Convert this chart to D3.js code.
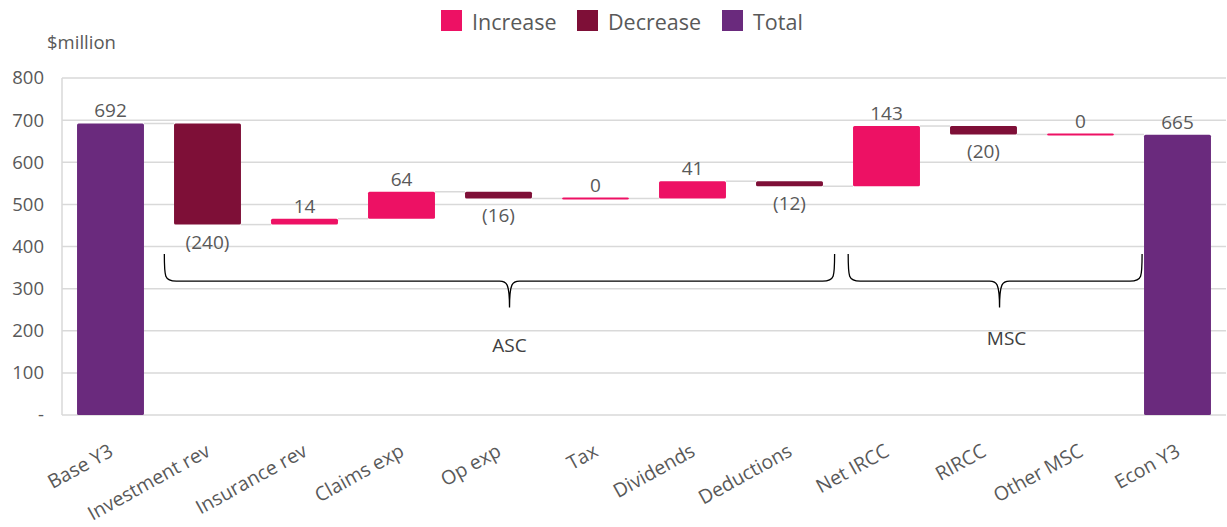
<!DOCTYPE html>
<html lang="en">
<head>
    <meta charset="UTF-8">
    <title>Waterfall $million</title>
    <script src="https://d3js.org/d3.v7.min.js"></script>
    <style>
        body { margin: 0; background: #fff; }
        svg { display: block; }
        text { font-family: "Open Sans", "Noto Sans", sans-serif; fill: #595959; }
    </style>
</head>
<body>
    <svg width="1227" height="527"></svg>
    <script>
        // Chart data
        const categories = ["Base Y3", "Investment rev", "Insurance rev", "Claims exp", "Op exp", "Tax",
                            "Dividends", "Deductions", "Net IRCC", "RIRCC", "Other MSC", "Econ Y3"];
        const values = [692, -240, 14, 64, -16, 0, 41, -12, 143, -20, 0, 665];
        const kinds = ["total", "step", "step", "step", "step", "step", "step", "step", "step", "step", "step", "total"];
        const yTicks = [0, 100, 200, 300, 400, 500, 600, 700, 800];
        const groups = [
            { label: "ASC", from: "Investment rev", to: "Deductions" },
            { label: "MSC", from: "Net IRCC", to: "Other MSC" }
        ];
        const legendItems = ["Increase", "Decrease", "Total"];
        const colors = { Increase: "#ED1164", Decrease: "#7E0F37", Total: "#6A2A7D" };

        const svg = d3.select("svg");
        const margin = { left: 62, right: 1, top: 78, bottom: 112 };
        const width = 1227, height = 527;

        // Running totals
        let running = 0;
        const bars = categories.map((c, i) => {
            let y0, y1, type;
            if (kinds[i] === "total") {
                y0 = 0; y1 = values[i]; running = values[i]; type = "Total";
            } else {
                y0 = running; y1 = running + values[i]; running = y1;
                type = values[i] < 0 ? "Decrease" : "Increase";
            }
            return { cat: c, value: values[i], y0, y1, type, end: running };
        });

        const x = d3.scaleBand()
            .domain(categories)
            .range([margin.left, width - margin.right])
            .paddingInner(0.31)
            .paddingOuter(0.155);

        const y = d3.scaleLinear()
            .domain([0, 800])
            .range([height - margin.bottom, margin.top]);

        // Gridlines
        svg.append("g")
            .selectAll("line")
            .data(yTicks)
            .join("line")
            .attr("x1", margin.left)
            .attr("x2", width - margin.right)
            .attr("y1", d => y(d))
            .attr("y2", d => y(d))
            .attr("stroke", "#d9d9d9")
            .attr("stroke-width", 1.5);

        svg.append("line")
            .attr("x1", margin.left).attr("x2", margin.left)
            .attr("y1", y(800)).attr("y2", y(0))
            .attr("stroke", "#d9d9d9")
            .attr("stroke-width", 1.5);

        // Y axis labels
        svg.append("g")
            .selectAll("text")
            .data(yTicks)
            .join("text")
            .attr("x", 44)
            .attr("y", d => y(d))
            .attr("dy", "0.35em")
            .attr("text-anchor", "end")
            .attr("font-size", 18.5)
            .text(d => d === 0 ? "-" : d);

        svg.append("text")
            .attr("x", 47)
            .attr("y", 49)
            .attr("font-size", 18.5)
            .text("$million");

        // Connector lines between bars
        svg.append("g")
            .selectAll("line")
            .data(bars.slice(0, -1))
            .join("line")
            .attr("x1", (d, i) => x(categories[i]) + x.bandwidth())
            .attr("x2", (d, i) => x(categories[i + 1]))
            .attr("y1", d => y(d.end))
            .attr("y2", d => y(d.end))
            .attr("stroke", "#d9d9d9")
            .attr("stroke-width", 1.5);

        // Bars
        svg.append("g")
            .selectAll("rect")
            .data(bars)
            .join("rect")
            .attr("x", d => x(d.cat))
            .attr("width", x.bandwidth())
            .attr("y", d => Math.min(y(d.y0), y(d.y1)) - (d.value === 0 ? 1 : 0))
            .attr("height", d => Math.max(2, Math.abs(y(d.y0) - y(d.y1))))
            .attr("rx", 1.5)
            .attr("fill", d => colors[d.type]);

        // Data labels
        svg.append("g")
            .selectAll("text")
            .data(bars)
            .join("text")
            .attr("x", d => x(d.cat) + x.bandwidth() / 2)
            .attr("y", d => d.type === "Decrease" ? y(d.y1) + 24 : y(Math.max(d.y0, d.y1)) - 6)
            .attr("text-anchor", "middle")
            .attr("font-size", 19)
            .text(d => d.value < 0 ? `(${-d.value})` : d.value);

        // X axis labels (rotated)
        svg.append("g")
            .selectAll("text")
            .data(categories)
            .join("text")
            .attr("text-anchor", "end")
            .attr("font-size", 19.5)
            .attr("transform", d => `translate(${x(d) + x.bandwidth() / 2 + 4},${y(0) + 40}) rotate(-29)`)
            .text(d => d);

        // Group braces
        function bracePath(x1, x2, xm, top, mid, tip) {
            const r = 12;
            return `M${x1},${top} C${x1},${mid - 4} ${x1},${mid} ${x1 + r},${mid}` +
                   ` L${xm - 10},${mid} C${xm - 3},${mid} ${xm},${mid + 2} ${xm},${tip}` +
                   ` M${xm},${tip} C${xm},${mid + 2} ${xm + 3},${mid} ${xm + 10},${mid}` +
                   ` L${x2 - r},${mid} C${x2},${mid} ${x2},${mid - 4} ${x2},${top}`;
        }

        const braceG = svg.append("g");
        groups.forEach((g, gi) => {
            const x1 = x(g.from) - x.step() * (gi === 0 ? 0.1 : 0.05);
            const x2 = x(g.to) + x.bandwidth() + x.step() * (gi === 0 ? 0.12 : 0.29);
            const xm = x1 + 0.515 * (x2 - x1);
            braceG.append("path")
                .attr("d", bracePath(x1, x2, xm, y(382), y(318), y(255)))
                .attr("fill", "none")
                .attr("stroke", "#000")
                .attr("stroke-width", 1.3);
            braceG.append("text")
                .attr("x", xm + (gi === 0 ? 0 : 7))
                .attr("y", gi === 0 ? y(155) : y(170))
                .attr("dy", "0.1em")
                .attr("text-anchor", "middle")
                .attr("font-size", 19)
                .style("fill", "#404040")
                .text(g.label);
        });

        // Legend
        const legendX = [441, 577, 722];
        const legend = svg.append("g")
            .selectAll("g")
            .data(legendItems)
            .join("g")
            .attr("transform", (d, i) => `translate(${legendX[i]},10)`);
        legend.append("rect")
            .attr("width", 21).attr("height", 21)
            .attr("fill", d => colors[d]);
        legend.append("text")
            .attr("x", 31).attr("y", 12)
            .attr("dy", "0.35em")
            .attr("font-size", 21.5)
            .text(d => d);
    </script>
</body>
</html>
